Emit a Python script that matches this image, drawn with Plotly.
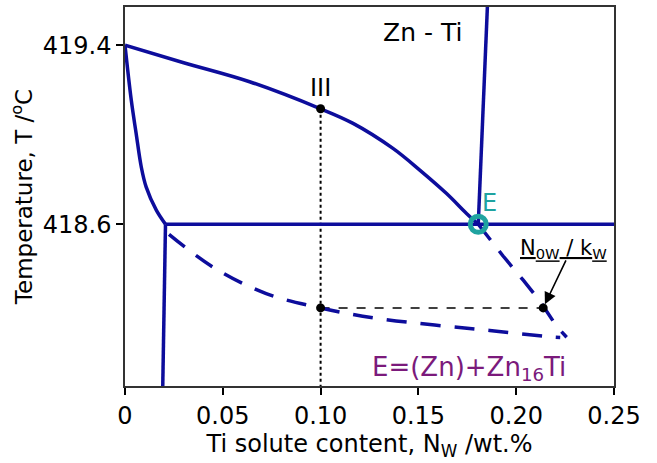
import plotly.graph_objects as go

# --- data ---
liquidus_x = [0.0, 0.03, 0.0637, 0.1, 0.1166, 0.137, 0.1507, 0.1644, 0.1746, 0.1806]
liquidus_t = [419.4, 419.322, 419.237, 419.116, 419.051, 418.939, 418.842, 418.737, 418.648, 418.6]

solidus_x = [0.0, 0.0032, 0.0057, 0.0083, 0.0108, 0.016, 0.0207]
solidus_t = [419.4, 419.155, 419.006, 418.857, 418.767, 418.663, 418.6]

solvus_x = [0.0207, 0.0193]
solvus_t = [418.6, 417.877]

eutectic_x = [0.0207, 0.25]
eutectic_t = [418.6, 418.6]

compound_x = [0.1806, 0.1855]
compound_t = [418.6, 419.62]

meta_solidus_x = [0.0225, 0.0449, 0.0722, 0.1, 0.130, 0.1865, 0.217, 0.2225]
meta_solidus_t = [418.555, 418.409, 418.29, 418.226, 418.178, 418.125, 418.097, 418.094]

meta_liquidus_x = [0.1806, 0.1933, 0.2036, 0.2121, 0.2207, 0.2258]
meta_liquidus_t = [418.6, 418.458, 418.35, 418.257, 418.143, 418.095]

vline_x = [0.1, 0.1]
vline_t = [419.116, 417.877]
hline_x = [0.1, 0.2138]
hline_t = [418.226, 418.226]

dots_x = [0.1, 0.1, 0.2138]
dots_t = [419.116, 418.226, 418.226]

eut_x = [0.1806]
eut_t = [418.6]

x_ticks = [0, 0.05, 0.10, 0.15, 0.20, 0.25]
x_labels = ["0", "0.05", "0.10", "0.15", "0.20", "0.25"]
y_ticks = [418.6, 419.4]
y_labels = ["418.6", "419.4"]

BLUE = "#0d0d9c"
TEAL = "#1fa3a0"
PURPLE = "#7b1a7b"
FONT = "DejaVu Sans"

fig = go.Figure()

def line(x, y, color=BLUE, width=3.5, dash="solid", shape="linear"):
    fig.add_trace(go.Scatter(x=x, y=y, mode="lines",
                             line=dict(color=color, width=width, dash=dash,
                                       shape=shape, smoothing=1.0),
                             showlegend=False, hoverinfo="skip"))

line(vline_x, vline_t, color="black", width=2, dash="dot")
line(hline_x, hline_t, color="black", width=1.5, dash="dash")
line(liquidus_x, liquidus_t, shape="spline")
line(solidus_x, solidus_t, shape="spline")
line(solvus_x, solvus_t)
line(eutectic_x, eutectic_t)
line(compound_x, compound_t)
line(meta_solidus_x, meta_solidus_t, dash="20px,14px", shape="spline")
line(meta_liquidus_x, meta_liquidus_t, dash="20px,14px")

fig.add_trace(go.Scatter(x=dots_x, y=dots_t, mode="markers",
                         marker=dict(color="black", size=9),
                         showlegend=False, hoverinfo="skip"))
fig.add_trace(go.Scatter(x=eut_x, y=eut_t, mode="markers",
                         marker=dict(color="rgba(0,0,0,0)", size=16,
                                     line=dict(color=TEAL, width=5)),
                         showlegend=False, hoverinfo="skip"))

fig.add_annotation(x=0.1, y=419.116, text="III", showarrow=False,
                   yshift=21, font=dict(family=FONT, size=24, color="black"))
fig.add_annotation(x=0.1523, y=419.455, text="Zn - Ti", showarrow=False,
                   font=dict(family=FONT, size=25, color="black"))
fig.add_annotation(x=0.1865, y=418.694, text="E", showarrow=False,
                   font=dict(family=FONT, size=24, color=TEAL))
fig.add_annotation(x=0.2244, y=418.49,
                   text="<u>N<sub>0W</sub> / k<sub>W</sub></u>", showarrow=False,
                   font=dict(family=FONT, size=21, color="black"))
fig.add_annotation(x=0.2138, y=418.226, ax=0.2258, ay=418.445,
                   xref="x", yref="y", axref="x", ayref="y",
                   text="", showarrow=True, arrowhead=2, arrowsize=1.5,
                   arrowwidth=1.6, arrowcolor="black", standoff=4)
fig.add_annotation(x=0.176, y=417.955,
                   text="E=(Zn)+Zn<sub>16</sub>Ti", showarrow=False,
                   font=dict(family=FONT, size=26, color=PURPLE))

fig.update_xaxes(range=[0, 0.25], tickvals=x_ticks, ticktext=x_labels,
                 ticks="outside", ticklen=7, tickcolor="black", tickwidth=1.5,
                 showline=True, linecolor="#333", linewidth=1.5, mirror=True,
                 showgrid=False, zeroline=False, automargin=False,
                 tickfont=dict(family=FONT, size=24, color="black"),
                 title=dict(text="Ti solute content, N<sub>W</sub> /wt.%",
                            font=dict(family=FONT, size=24, color="black"),
                            standoff=4))
fig.update_yaxes(range=[417.877, 419.571], tickvals=y_ticks, ticktext=y_labels,
                 ticks="outside", ticklen=7, tickcolor="black", tickwidth=1.5,
                 showline=True, linecolor="#333", linewidth=1.5, mirror=True,
                 showgrid=False, zeroline=False, automargin=False,
                 tickfont=dict(family=FONT, size=24, color="black"),
                 title=dict(text="Temperature, T /<sup>o</sup>C",
                            font=dict(family=FONT, size=23, color="black"),
                            standoff=4))

fig.update_layout(width=657, height=463,
                  margin=dict(l=125, r=43, t=7, b=77, autoexpand=False),
                  plot_bgcolor="white", paper_bgcolor="white")

fig.write_html("out.html", config={"displayModeBar": False},
               post_script="document.body.style.margin='0';document.body.style.overflow='hidden';")
